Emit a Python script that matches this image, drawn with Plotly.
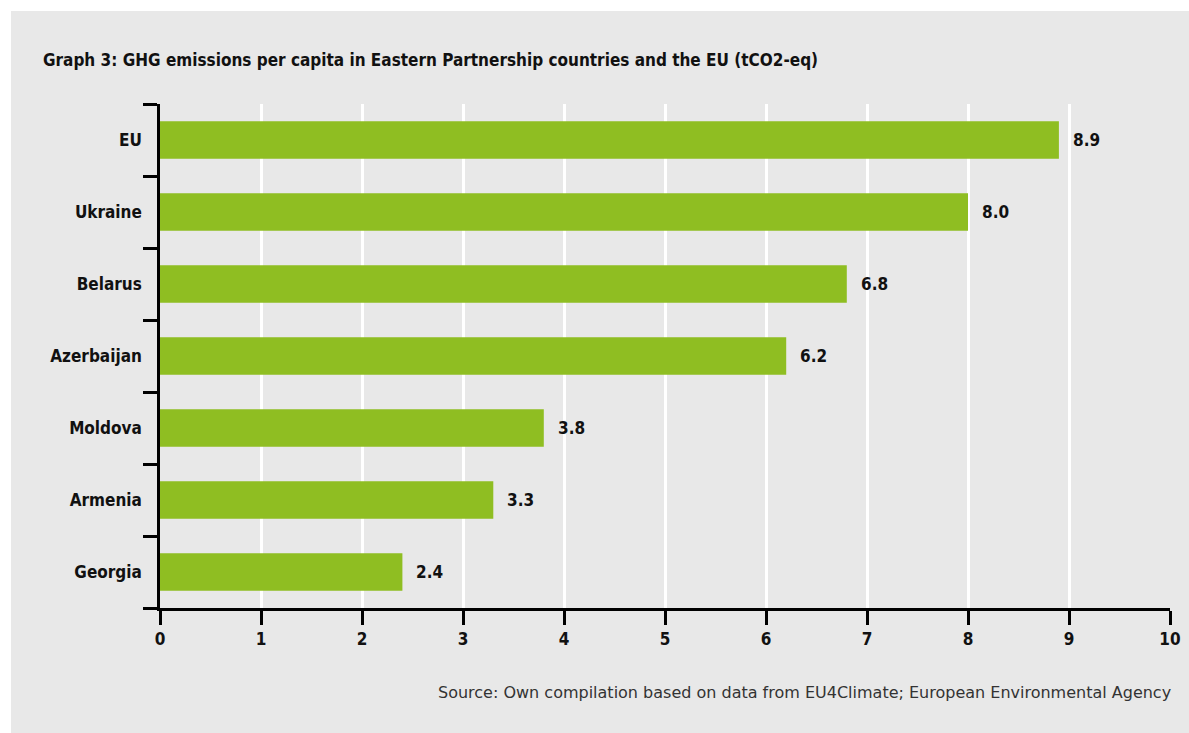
import plotly.graph_objects as go

countries = ["EU", "Ukraine", "Belarus", "Azerbaijan", "Moldova", "Armenia", "Georgia"]
values = [8.9, 8.0, 6.8, 6.2, 3.8, 3.3, 2.4]
value_labels = ["8.9", "8.0", "6.8", "6.2", "3.8", "3.3", "2.4"]
x_ticks = [0, 1, 2, 3, 4, 5, 6, 7, 8, 9, 10]

title_text = "Graph 3: GHG emissions per capita in Eastern Partnership countries and the EU (tCO2-eq)"
source_text = "Source: Own compilation based on data from EU4Climate; European Environmental Agency"

W, H = 1189, 733
L, R, T, B = 160, 19, 104, 125
PW, PH = W - L - R, H - T - B

COND = "Liberation Sans Narrow, DejaVu Sans Condensed, Roboto Condensed, Arial Narrow, sans-serif"
GRAY = "#e8e8e8"
GREEN = "#8fbe22"


def fx(px):
    return (px - L) / PW


def fy(py):
    return (H - B - py) / PH


fig = go.Figure()
fig.add_trace(go.Bar(
    x=values, y=countries, orientation="h",
    marker=dict(color=GREEN, line=dict(width=0)),
    width=0.52, hoverinfo="skip",
))

annotations = []
for c, v, lab in zip(countries, values, value_labels):
    annotations.append(dict(
        x=v, y=c, xref="x", yref="y", text="<b>" + lab + "</b>",
        showarrow=False, xanchor="left", yanchor="middle", xshift=12,
        font=dict(family=COND, size=17, color="#111111"),
    ))

annotations.append(dict(
    x=fx(41), y=fy(60), xref="paper", yref="paper", text="<b>" + title_text + "</b>",
    showarrow=False, xanchor="left", yanchor="middle",
    font=dict(family=COND, size=17, color="#111111"),
))
annotations.append(dict(
    x=fx(1173), y=fy(692), xref="paper", yref="paper", text=source_text,
    showarrow=False, xanchor="right", yanchor="middle",
    font=dict(family="DejaVu Sans, sans-serif", size=16, color="#333333"),
))

fig.update_layout(
    width=W, height=H,
    margin=dict(l=L, r=R, t=T, b=B, autoexpand=False),
    paper_bgcolor="white", plot_bgcolor=GRAY,
    showlegend=False,
    annotations=annotations,
    shapes=[dict(
        type="rect", xref="paper", yref="paper", layer="below",
        x0=fx(11), x1=fx(W + 5), y0=fy(H + 5), y1=fy(11),
        fillcolor=GRAY, line=dict(width=0),
    )],
    bargap=0.48,
)

fig.update_xaxes(
    range=[0, 10], tickvals=x_ticks, ticktext=[str(t) for t in x_ticks],
    showgrid=True, gridcolor="white", gridwidth=2.5,
    showline=True, linecolor="black", linewidth=2.5,
    ticks="outside", ticklen=14, tickwidth=2.5, tickcolor="black",
    tickfont=dict(family=COND, size=17, color="#111111", weight="bold"),
    zeroline=False, fixedrange=True,
)
fig.update_yaxes(
    type="category", categoryorder="array", categoryarray=countries[::-1],
    range=[-0.5, 6.5], tickson="boundaries",
    showgrid=False,
    showline=True, linecolor="black", linewidth=2.5,
    ticks="outside", ticklen=14, tickwidth=2.5, tickcolor="black",
    tickfont=dict(family=COND, size=17, color="#111111", weight="bold"),
    ticklabelstandoff=12,
    zeroline=False, fixedrange=True,
)

fig.write_html(
    "out.html",
    config={"displayModeBar": False},
    post_script=(
        "document.body.style.margin='0';"
        "document.body.style.overflow='hidden';"
        "document.body.style.background='#e8e8e8';"
        "document.documentElement.style.background='#e8e8e8';"
    ),
)
